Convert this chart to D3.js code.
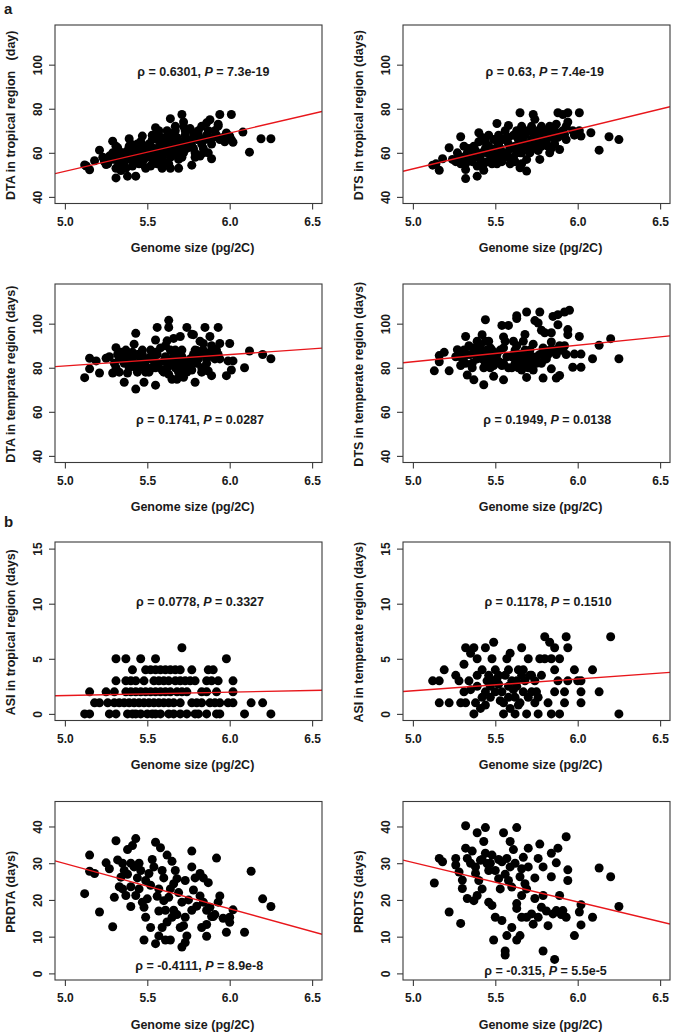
<!DOCTYPE html>
<html><head><meta charset="utf-8">
<script src="https://cdn.jsdelivr.net/npm/d3@7"></script>
<style>
html,body{margin:0;padding:0;background:#fff;}
svg text{font-family:"Liberation Sans",Arial,sans-serif;font-weight:bold;fill:#1a1a1a;}
</style></head><body>
<svg id="chart" width="675" height="1034"></svg>
<script>
// ---------- data ----------
const xTicks = [5.0, 5.5, 6.0, 6.5];
const dtTicks = [40, 60, 80, 100];
const asiTicks = [0, 5, 10, 15];
const prTicks = [0, 10, 20, 30, 40];
const xTitle = "Genome size (pg/2C)";
const yTitles = ["DTA in tropical region\u00a0\u00a0\u00a0(day)", "DTS in tropical region (days)",
  "DTA in temprate region (days)", "DTS in temperate region (days)",
  "ASI in tropical region (days)", "ASI in temperate region (days)",
  "PRDTA (days)", "PRDTS (days)"];
const rhoLabels = ["0.6301", "0.63", "0.1741", "0.1949", "0.0778", "0.1178", "-0.4111", "-0.315"];
const pLabels = ["7.3e-19", "7.4e-19", "0.0287", "0.0138", "0.3327", "0.1510", "8.9e-8", "5.5e-5"];
// regression line: fitted value at genome size 5.0 and at 6.5
const fitAt5 = [51.6, 52.7, 80.8, 82.7, 1.66, 2.1, 29.9, 30.2];
const fitAt65 = [77.7, 79.8, 88.6, 94.0, 2.13, 3.7, 11.4, 14.1];

const dtaTropical = [
[5.12,54.5],[5.15,52.3],[5.18,56.4],[5.13,54],[5.21,61.2],[5.24,56],[5.23,58],
[5.25,54.7],[5.27,58.5],[5.29,65.3],[5.28,57],[5.26,55],[5.29,60],
[5.31,48.6],[5.32,62.3],[5.31,53],[5.33,56],[5.32,58],[5.34,60],[5.33,55],[5.34,52],[5.31,63],
[5.38,49.4],[5.39,66.4],[5.36,57],[5.37,59],[5.38,61],[5.36,55],[5.37,53],[5.39,63],[5.38,58],
[5.43,49.4],[5.41,60],[5.42,62],[5.43,56],[5.44,58],[5.41,54],[5.44,64],[5.42,59],[5.43,57],
[5.47,67.6],[5.46,65],[5.47,55],[5.48,57],[5.46,60],[5.49,62],[5.48,58],[5.47,63],[5.49,53],[5.46,61],
[5.55,71.4],[5.51,64],[5.52,58],[5.53,55],[5.51,60],[5.54,62],[5.53,66],[5.52,54],[5.54,56],[5.53,68],
[5.57,70],[5.56,66],[5.58,60],[5.57,57],[5.59,53],[5.56,62],[5.58,64],[5.59,58],[5.57,68],[5.56,55],[5.58,59],
[5.64,75.5],[5.62,70],[5.61,63],[5.63,60],[5.64,58],[5.62,65],[5.61,67],[5.63,55],[5.64,53],[5.62,62],
[5.67,72],[5.66,68],[5.68,62],[5.67,60],[5.69,57],[5.66,65],[5.69,53],[5.68,64],[5.67,70],[5.66,66],
[5.71,77.4],[5.72,74],[5.73,70],[5.71,65],[5.74,62],[5.72,60],[5.73,68],[5.74,66],[5.71,58],[5.72,72],
[5.77,54.4],[5.76,71],[5.78,67],[5.77,63],[5.79,60],[5.76,65],[5.78,69],[5.79,58],
[5.82,58.5],[5.81,70],[5.83,72],[5.82,66],[5.84,62],[5.81,68],[5.83,64],[5.84,60],
[5.89,57.3],[5.86,73.6],[5.87,70],[5.88,66],[5.86,68],[5.89,64],[5.87,60],[5.88,75],
[5.94,77.4],[5.93,72.1],[5.91,70],[5.92,68],[5.94,66],[5.93,73],
[5.97,65],[5.96,67],[5.98,69],
[6.01,77.4],[6.0,67.6],[6.02,64.8],[6.01,66],
[6.08,69.4],[6.12,60.3],[6.19,66.4],[6.25,66.4],
[5.35,60],[5.40,57],[5.45,59],[5.50,61],[5.55,59],[5.60,61],[5.65,62],[5.70,63],[5.75,64],[5.80,66],
[5.85,66],[5.90,67],[5.52,63],[5.58,66],[5.63,68],[5.68,67],[5.73,66],[5.78,62],[5.45,55],[5.55,57],
[5.65,59],[5.40,64],[5.30,57],[5.60,56],[5.70,61]
];
const dtsTropical = [
[5.12,54.4],[5.16,52.1],[5.18,57.3],[5.14,55],[5.22,62.3],[5.24,57],[5.26,56],
[5.29,67.3],[5.28,58],[5.27,60],[5.29,55],
[5.32,48.3],[5.32,52.4],[5.31,63],[5.33,60],[5.34,57],[5.32,55],[5.34,62],
[5.39,49.4],[5.40,69.1],[5.37,58],[5.36,56],[5.38,61],[5.39,54],[5.37,63],[5.38,59],
[5.43,52.1],[5.42,60],[5.41,57],[5.44,62],[5.43,55],[5.44,65],[5.42,67],[5.41,59],
[5.46,63],[5.47,57],[5.48,60],[5.49,66],[5.46,68],[5.48,55],[5.47,61],[5.49,58],
[5.51,73.3],[5.52,64],[5.53,58],[5.51,61],[5.54,56],[5.52,68],[5.53,62],[5.54,66],[5.51,55],
[5.58,72.4],[5.56,70],[5.57,60],[5.58,64],[5.56,58],[5.59,62],[5.57,67],[5.59,55],[5.56,66],
[5.65,78.2],[5.65,53.2],[5.61,68],[5.62,63],[5.63,60],[5.64,66],[5.61,58],[5.63,70],[5.62,56],[5.64,62],
[5.69,51.7],[5.66,72],[5.67,68],[5.68,63],[5.66,60],[5.69,57],[5.67,65],[5.68,70],[5.66,55],
[5.73,77.4],[5.74,75.2],[5.71,70],[5.72,66],[5.73,62],[5.71,60],[5.74,68],[5.72,72],[5.71,64],
[5.77,57],[5.76,70],[5.78,66],[5.77,63],[5.79,68],[5.76,61],[5.78,72],
[5.83,60],[5.81,70],[5.82,63],[5.84,68],[5.83,72],[5.81,65],[5.84,62],
[5.88,78.2],[5.89,61.5],[5.86,70],[5.87,73],[5.88,67],[5.86,64],[5.89,69],
[5.91,77.4],[5.94,78.2],[5.92,68.3],[5.93,72],[5.91,70],[5.94,74],[5.93,66],
[5.97,70],[5.98,68],
[6.01,78.2],[6.02,67.6],[6.01,70],
[6.08,69.1],[6.13,61.2],[6.19,67.3],[6.25,66],
[5.35,61],[5.40,58],[5.45,60],[5.50,62],[5.55,60],[5.60,62],[5.65,63],[5.70,64],[5.75,65],[5.80,67],
[5.85,67],[5.90,68],[5.52,64],[5.58,67],[5.63,69],[5.68,68],[5.73,67],[5.78,63],[5.45,56],[5.55,58],
[5.65,60],[5.40,65],[5.30,58],[5.60,57],[5.70,62]
];
const dtaTemperate = [
[5.12,75.5],[5.15,79.5],[5.15,84.3],[5.19,83.1],[5.21,77.6],[5.25,84.3],[5.27,85],
[5.29,77.6],[5.31,89.1],[5.30,82],[5.32,86],[5.31,80],[5.33,84],[5.34,87],[5.33,78],
[5.36,73.4],[5.38,77.6],[5.37,88],[5.36,82],[5.38,85],[5.39,80],[5.37,86],
[5.43,70.3],[5.43,95.6],[5.42,90.7],[5.41,84],[5.42,82],[5.44,86],[5.43,80],[5.41,87],[5.44,78],
[5.48,73.4],[5.47,86],[5.48,80],[5.49,83],[5.46,84],[5.49,78],[5.47,88],
[5.55,72.1],[5.56,98.3],[5.55,92.6],[5.52,85],[5.53,80],[5.54,83],[5.51,78],[5.52,88],[5.56,86],[5.57,82],[5.58,89],[5.59,79],
[5.63,101.5],[5.63,98.3],[5.62,92.2],[5.61,85],[5.62,80],[5.64,83],[5.63,77],[5.64,88],[5.61,90],
[5.65,74.8],[5.66,93.3],[5.68,74.8],[5.66,86],[5.67,80],[5.68,83],[5.69,78],[5.67,88],[5.69,82],
[5.70,94.2],[5.72,75.7],[5.74,98.3],[5.71,85],[5.72,80],[5.73,83],[5.74,78],[5.71,88],[5.73,81],
[5.77,95.2],[5.78,95],[5.79,73.4],[5.76,82],[5.77,79],[5.78,86],[5.79,88],[5.80,87.8],[5.76,84],
[5.82,92],[5.84,91],[5.81,84],[5.83,80],[5.82,86],[5.84,88],[5.83,78],
[5.85,98.3],[5.88,94.2],[5.89,76.4],[5.87,78.5],[5.86,84],[5.88,87],[5.89,90],[5.86,82],
[5.93,98.3],[5.94,91],[5.93,86],[5.91,84],[5.92,88],[5.94,84],
[5.98,76.4],[6.0,91],[5.99,83.1],[6.02,83.1],[6.01,79],
[6.09,80],[6.12,87.6],[6.2,86],[6.25,84.1],
[5.35,84],[5.40,83],[5.45,81],[5.50,84],[5.55,80],[5.60,83],[5.65,82],[5.70,81],[5.75,83],[5.80,82],
[5.85,86],[5.90,86],[5.45,86],[5.55,87],[5.65,84],[5.70,86],[5.60,78],[5.50,80],[5.40,86],[5.75,80]
];
const dtsTemperate = [
[5.13,78.6],[5.16,82.7],[5.16,85.5],[5.19,87],[5.22,78.6],[5.27,88.2],[5.26,85],[5.28,86],
[5.29,81],[5.32,94.2],[5.33,76.7],[5.30,84],[5.31,88],[5.32,82],[5.33,86],[5.34,90],
[5.37,74.5],[5.36,82],[5.38,86],[5.37,89],[5.39,84],[5.36,80],[5.39,92],
[5.43,72.3],[5.44,101.8],[5.42,95],[5.41,88],[5.42,84],[5.43,86],[5.44,82],[5.41,90],[5.44,92],[5.43,80],
[5.49,76.1],[5.46,86],[5.47,89],[5.48,84],[5.49,81],[5.46,92],[5.48,88],[5.47,80],
[5.55,74.5],[5.54,99.2],[5.58,99.2],[5.51,86],[5.52,83],[5.53,88],[5.54,81],[5.56,92],[5.57,85],[5.55,94],[5.58,80],
[5.63,103.6],[5.63,102.3],[5.61,86],[5.62,82],[5.63,90],[5.64,80],[5.61,92],[5.62,88],[5.64,84],
[5.69,105.3],[5.68,95.1],[5.69,75.6],[5.66,86],[5.67,82],[5.68,88],[5.66,79],[5.67,92],[5.69,84],
[5.74,101.4],[5.76,100.3],[5.73,90.7],[5.71,86],[5.72,82],[5.73,79],[5.74,84],[5.71,88],
[5.77,105.3],[5.78,97],[5.80,95.9],[5.79,75.3],[5.77,86],[5.78,82],[5.79,89],[5.80,84],
[5.84,79.5],[5.85,103.3],[5.84,95.9],[5.84,91.7],[5.82,86],[5.83,88],[5.81,84],
[5.88,104.1],[5.87,75.3],[5.89,76.5],[5.88,99.5],[5.86,88],[5.87,86],[5.89,90],
[5.92,105.3],[5.95,106.1],[5.94,97.3],[5.94,95],[5.91,88],[5.93,86],[5.92,90],
[6.01,94.2],[5.97,80.2],[6.02,80.2],[5.98,86.2],[6.02,86.2],
[6.09,84.1],[6.13,90.2],[6.2,93.2],[6.25,84.1],
[5.35,86],[5.40,85],[5.45,83],[5.50,86],[5.55,82],[5.60,85],[5.65,84],[5.70,83],[5.75,85],[5.80,86],
[5.85,88],[5.90,88],[5.45,88],[5.55,89],[5.65,86],[5.70,80],[5.60,80],[5.50,82],[5.40,87],[5.75,82]
];
const asiTropical = [
[5.12,0],[5.15,0],[5.27,0],[5.31,0],[5.38,0],[5.41,0],[5.43,0],[5.46,0],[5.50,0],[5.53,0],[5.55,0],[5.58,0],
[5.63,0],[5.66,0],[5.70,0],[5.74,0],[5.79,0],[5.81,0],[5.86,0],[5.92,0],[5.94,0],[6.09,0],[6.25,0],
[5.18,1],[5.21,1],[5.26,1],[5.30,1],[5.33,1],[5.36,1],[5.39,1],[5.42,1],[5.45,1],[5.48,1],[5.51,1],[5.54,1],
[5.57,1],[5.60,1],[5.63,1],[5.66,1],[5.70,1],[5.77,1],[5.80,1],[5.83,1],[5.88,1],[5.91,1],[5.94,1],[5.99,1],
[6.02,1],[6.13,1],[6.20,1],
[5.15,2],[5.25,2],[5.30,2],[5.37,2],[5.40,2],[5.43,2],[5.46,2],[5.49,2],[5.52,2],[5.55,2],[5.58,2],[5.61,2],
[5.64,2],[5.68,2],[5.71,2],[5.74,2],[5.83,2],[5.86,2],[5.92,2],[6.02,2],
[5.31,3],[5.37,3],[5.40,3],[5.43,3],[5.48,3],[5.54,3],[5.57,3],[5.60,3],[5.63,3],[5.67,3],[5.70,3],[5.73,3],
[5.76,3],[5.79,3],[5.86,3],[5.89,3],[5.93,3],[6.02,3],
[5.41,4],[5.49,4],[5.52,4],[5.55,4],[5.58,4],[5.61,4],[5.64,4],[5.67,4],[5.70,4],[5.77,4],[5.87,4],[5.90,4],
[5.31,5],[5.37,5],[5.46,5],[5.55,5],[5.98,5],
[5.71,6]
];
const asiTemperate = [
[5.12,3],[5.16,3],[5.16,1],[5.19,4],[5.22,1],[5.26,3.5],[5.28,3],[5.29,1],[5.31,2],[5.32,6],[5.31,4.5],[5.32,1],
[5.35,5.5],[5.37,6],[5.37,0],[5.39,5],[5.39,2.5],[5.39,3.5],[5.41,0.5],[5.44,6],[5.42,4],[5.44,2],[5.47,1.5],
[5.48,5],[5.49,6.5],[5.50,4],[5.49,3],[5.52,2.7],[5.52,3.5],[5.54,2],[5.55,1],[5.55,0],[5.57,5],[5.59,5.5],
[5.58,4],[5.58,2.5],[5.58,1.5],[5.59,0.5],[5.62,0],[5.63,3],[5.64,4],[5.65,1],[5.66,6],[5.67,4],[5.67,2],
[5.69,0],[5.70,5],[5.71,3.5],[5.72,2],[5.74,3],[5.75,2],[5.76,0],[5.77,5],[5.76,1.5],[5.80,7],[5.80,5],
[5.82,1],[5.83,6.5],[5.84,5],[5.86,6],[5.86,4],[5.86,2],[5.84,0],[5.89,0],[5.88,3],[5.89,5],[5.92,2],
[5.93,7],[5.94,6],[5.92,1],[5.94,3],[5.98,4],[6.00,3],[6.02,3],[6.02,2],[6.02,1],[6.09,4],[6.13,2],[6.20,7],[6.25,0],
[5.45,3],[5.47,2.5],[5.50,2],[5.51,3.2],[5.53,1.2],[5.56,3.5],[5.60,3],[5.61,2.2],[5.62,1.5],[5.63,2.5],
[5.64,0.8],[5.66,3.5],[5.68,3],[5.70,1.5],[5.72,3.5],[5.74,1],[5.78,3.5],[5.42,1.5],[5.38,1],[5.35,2.2],
[5.34,3],[5.44,0.8],[5.46,3.5]
];
const prdta = [
[5.12,21.7],[5.15,32.2],[5.15,27.8],[5.18,27.2],[5.21,16.7],[5.25,30.1],[5.27,28.5],[5.29,12.7],[5.31,36.1],
[5.30,20.7],[5.32,30.9],[5.38,33.7],[5.40,18.2],[5.43,36.7],[5.41,34.8],[5.48,18.0],[5.48,9.1],[5.49,15.3],
[5.52,12.5],[5.55,35.7],[5.55,8.1],[5.57,10.2],[5.59,12.5],[5.58,34.2],[5.62,32.2],[5.61,9.1],[5.64,9.1],
[5.71,7.2],[5.73,8.4],[5.74,10.2],[5.70,12.5],[5.77,33.3],[5.77,29],[5.82,27.2],[5.83,12.5],[5.86,10.1],
[5.86,13.3],[5.87,24.7],[5.92,31.4],[5.94,21.1],[5.93,19.4],[5.90,15.5],[5.98,11.2],[6.00,15.3],[6.00,13.9],
[6.02,17.3],[6.09,11.2],[6.13,27.8],[6.20,20.3],[6.25,18.2],[5.82,21.1],[5.84,19.4],[5.86,17.2],[5.89,15.5],
[5.78,22.7],[5.77,17.2],[5.73,15.3],[5.66,17.2],[5.65,15.3],[5.61,17.2],[5.64,23],[5.59,28],[5.54,29],
[5.51,27.2],[5.49,25.3],[5.45,30],[5.42,29],[5.35,30],[5.34,26.2],[5.35,23],[5.37,21.2],[5.33,23.6],
[5.40,23.6],[5.43,21.2],[5.45,23],[5.47,19.4],[5.50,20.3],[5.57,23],[5.60,19.8],[5.63,20.7],[5.66,24.4],
[5.68,25.8],[5.67,28],[5.65,30.5],[5.71,19.4],[5.73,25.3],[5.80,18.3],
[5.38,27],[5.44,26],[5.52,24],[5.56,21],[5.60,26],[5.69,22],[5.75,20],[5.79,26],[5.84,26],[5.91,16],
[5.36,28],[5.40,30],[5.46,28],[5.53,31],[5.57,17],[5.62,14],[5.68,16],[5.72,13],[5.88,18],[5.96,15]
];
const prdts = [
[5.13,24.6],[5.16,31.3],[5.18,30.4],[5.22,16.7],[5.26,31.3],[5.26,29.5],[5.28,27.6],[5.29,13.6],[5.32,40.2],
[5.32,34.1],[5.30,25.4],[5.30,23.1],[5.33,20.4],[5.39,38.3],[5.37,19.8],[5.43,35.9],[5.44,39.7],[5.48,18.5],
[5.49,9.1],[5.50,15.3],[5.54,14.4],[5.55,38.3],[5.56,6.1],[5.56,5.0],[5.57,10.3],[5.59,35.9],[5.63,39.7],
[5.60,12.5],[5.63,9.1],[5.65,10.3],[5.63,17.7],[5.70,34.1],[5.77,35.2],[5.73,13.4],[5.79,6.1],[5.82,13],
[5.86,3.8],[5.84,32.7],[5.88,34.1],[5.93,37.2],[5.87,30.1],[5.84,26.3],[5.89,21.2],[5.94,28.2],[5.94,25.3],
[5.98,10.3],[6.02,18.7],[6.02,13.2],[6.01,16.7],[6.09,15.3],[6.13,28.7],[6.20,26.3],[6.25,18.2],
[5.74,20.4],[5.79,21.2],[5.78,18],[5.79,29],[5.76,31.3],[5.67,31.6],[5.66,28.5],[5.65,26.3],[5.68,24.4],
[5.69,23],[5.66,21.2],[5.63,19],[5.66,15.3],[5.69,15.3],[5.72,16.2],[5.76,15.3],[5.85,16.2],[5.87,17.1],
[5.91,17.1],[5.93,15.3],[5.59,29],[5.58,25.3],[5.60,23.5],[5.61,33.7],[5.57,31.3],[5.54,30.4],[5.50,28],
[5.52,25.8],[5.53,23],[5.48,32.2],[5.45,29.9],[5.41,30.8],[5.38,29],[5.36,33.3],[5.38,27.2],[5.40,25.3],
[5.42,23],[5.39,21.2],[5.46,19.4],[5.46,28],[5.44,32.7],[5.33,31.3],
[5.35,30],[5.42,31],[5.47,30],[5.52,31],[5.56,27],[5.62,30],[5.70,29],[5.74,26],[5.81,17],[5.90,16]
];

// ---------- layout ----------
const panels = [
  {data: dtaTropical,  ticks: dtTicks,  ylim: [40, 115], col: 0, row: 0, ann: [5.84, 97]},
  {data: dtsTropical,  ticks: dtTicks,  ylim: [40, 115], col: 1, row: 0, ann: [5.80, 97]},
  {data: dtaTemperate, ticks: dtTicks,  ylim: [40, 115], col: 0, row: 1, ann: [5.82, 56.6]},
  {data: dtsTemperate, ticks: dtTicks,  ylim: [40, 115], col: 1, row: 1, ann: [5.815, 56.4]},
  {data: asiTropical,  ticks: asiTicks, ylim: [0, 15],   col: 0, row: 2, ann: [5.82, 10.2]},
  {data: asiTemperate, ticks: asiTicks, ylim: [0, 15],   col: 1, row: 2, ann: [5.82, 10.2]},
  {data: prdta,        ticks: prTicks,  ylim: [0, 45],   col: 0, row: 3, ann: [5.815, 2.2]},
  {data: prdts,        ticks: prTicks,  ylim: [0, 45],   col: 1, row: 3, ann: [5.805, 0.9]}
];
const boxLeft = [55, 403], boxW = 267, boxH = 178.5;
const boxTop = [25, 284, 542, 801.5];
const xlim = [5.0, 6.5];
const pad = v => { const r = v[1] - v[0]; return [v[0] - 0.04 * r, v[1] + 0.04 * r]; };

const svg = d3.select("#chart");

panels.forEach((p, i) => {
  const L = boxLeft[p.col], T = boxTop[p.row];
  const x = d3.scaleLinear().domain(pad(xlim)).range([L, L + boxW]);
  const y = d3.scaleLinear().domain(pad(p.ylim)).range([T + boxH, T]);
  const g = svg.append("g");

  const cid = "clip" + i;
  g.append("clipPath").attr("id", cid).append("rect")
    .attr("x", L).attr("y", T).attr("width", boxW).attr("height", boxH);

  // points
  g.append("g").selectAll("circle").data(p.data).join("circle")
    .attr("cx", d => x(d[0])).attr("cy", d => y(d[1])).attr("r", 4.5)
    .attr("fill", "#000");

  // regression line, extended to the box edges
  const slope = (fitAt65[i] - fitAt5[i]) / 1.5;
  const f = v => fitAt5[i] + slope * (v - 5);
  const xd = x.domain();
  g.append("line").attr("clip-path", `url(#${cid})`)
    .attr("x1", x(xd[0])).attr("y1", y(f(xd[0])))
    .attr("x2", x(xd[1])).attr("y2", y(f(xd[1])))
    .attr("stroke", "#e8161b").attr("stroke-width", 1.4);

  // box
  g.append("rect").attr("x", L).attr("y", T).attr("width", boxW).attr("height", boxH)
    .attr("fill", "none").attr("stroke", "#3a3a3a").attr("stroke-width", 1.1);

  // x axis
  const xa = g.append("g").attr("transform", `translate(0,${T + boxH})`)
    .call(d3.axisBottom(x).tickValues(xTicks).tickSizeOuter(0).tickSizeInner(6).tickFormat(d3.format(".1f")));
  xa.select(".domain").remove();
  xa.selectAll(".tick line").attr("stroke", "#3a3a3a").attr("stroke-width", 1.1);
  xa.selectAll(".tick text").attr("y", 0).attr("dy", null)
    .attr("transform", "translate(0,22)")
    .attr("font-size", 12).attr("fill", "#1a1a1a");

  // y axis
  const ya = g.append("g").attr("transform", `translate(${L},0)`)
    .call(d3.axisLeft(y).tickValues(p.ticks).tickSizeOuter(0).tickSizeInner(6));
  ya.select(".domain").remove();
  ya.selectAll(".tick line").attr("stroke", "#3a3a3a").attr("stroke-width", 1.1);
  ya.selectAll(".tick text").attr("x", null).attr("dy", null)
    .attr("transform", "translate(-17.5,0) rotate(-90)")
    .attr("text-anchor", "middle").attr("dy", "0.36em")
    .attr("font-size", 12).attr("fill", "#1a1a1a");

  // axis titles
  g.append("text").attr("x", L + boxW / 2 + 4).attr("y", T + boxH + 44.3).attr("dy", "0.36em")
    .attr("text-anchor", "middle").attr("font-size", 12.5).text(xTitle);
  g.append("text").attr("transform", `translate(${L - 45},${T + boxH / 2 + 1}) rotate(-90)`)
    .attr("dy", "0.36em").attr("text-anchor", "middle").attr("font-size", 12.5)
    .style("white-space", "pre").text(yTitles[i]);

  // annotation
  const t = g.append("text").attr("x", x(p.ann[0])).attr("y", y(p.ann[1])).attr("dy", "0.36em")
    .attr("text-anchor", "middle").attr("font-size", 12.5);
  t.append("tspan").text("\u03c1 = " + rhoLabels[i] + ", ");
  t.append("tspan").attr("font-style", "italic").text("P");
  t.append("tspan").text(" = " + pLabels[i]);
});

// panel letters
svg.append("text").attr("x", 4).attr("y", 14).attr("font-size", 15).text("a");
svg.append("text").attr("x", 4).attr("y", 527).attr("font-size", 15).text("b");
</script>
</body></html>
